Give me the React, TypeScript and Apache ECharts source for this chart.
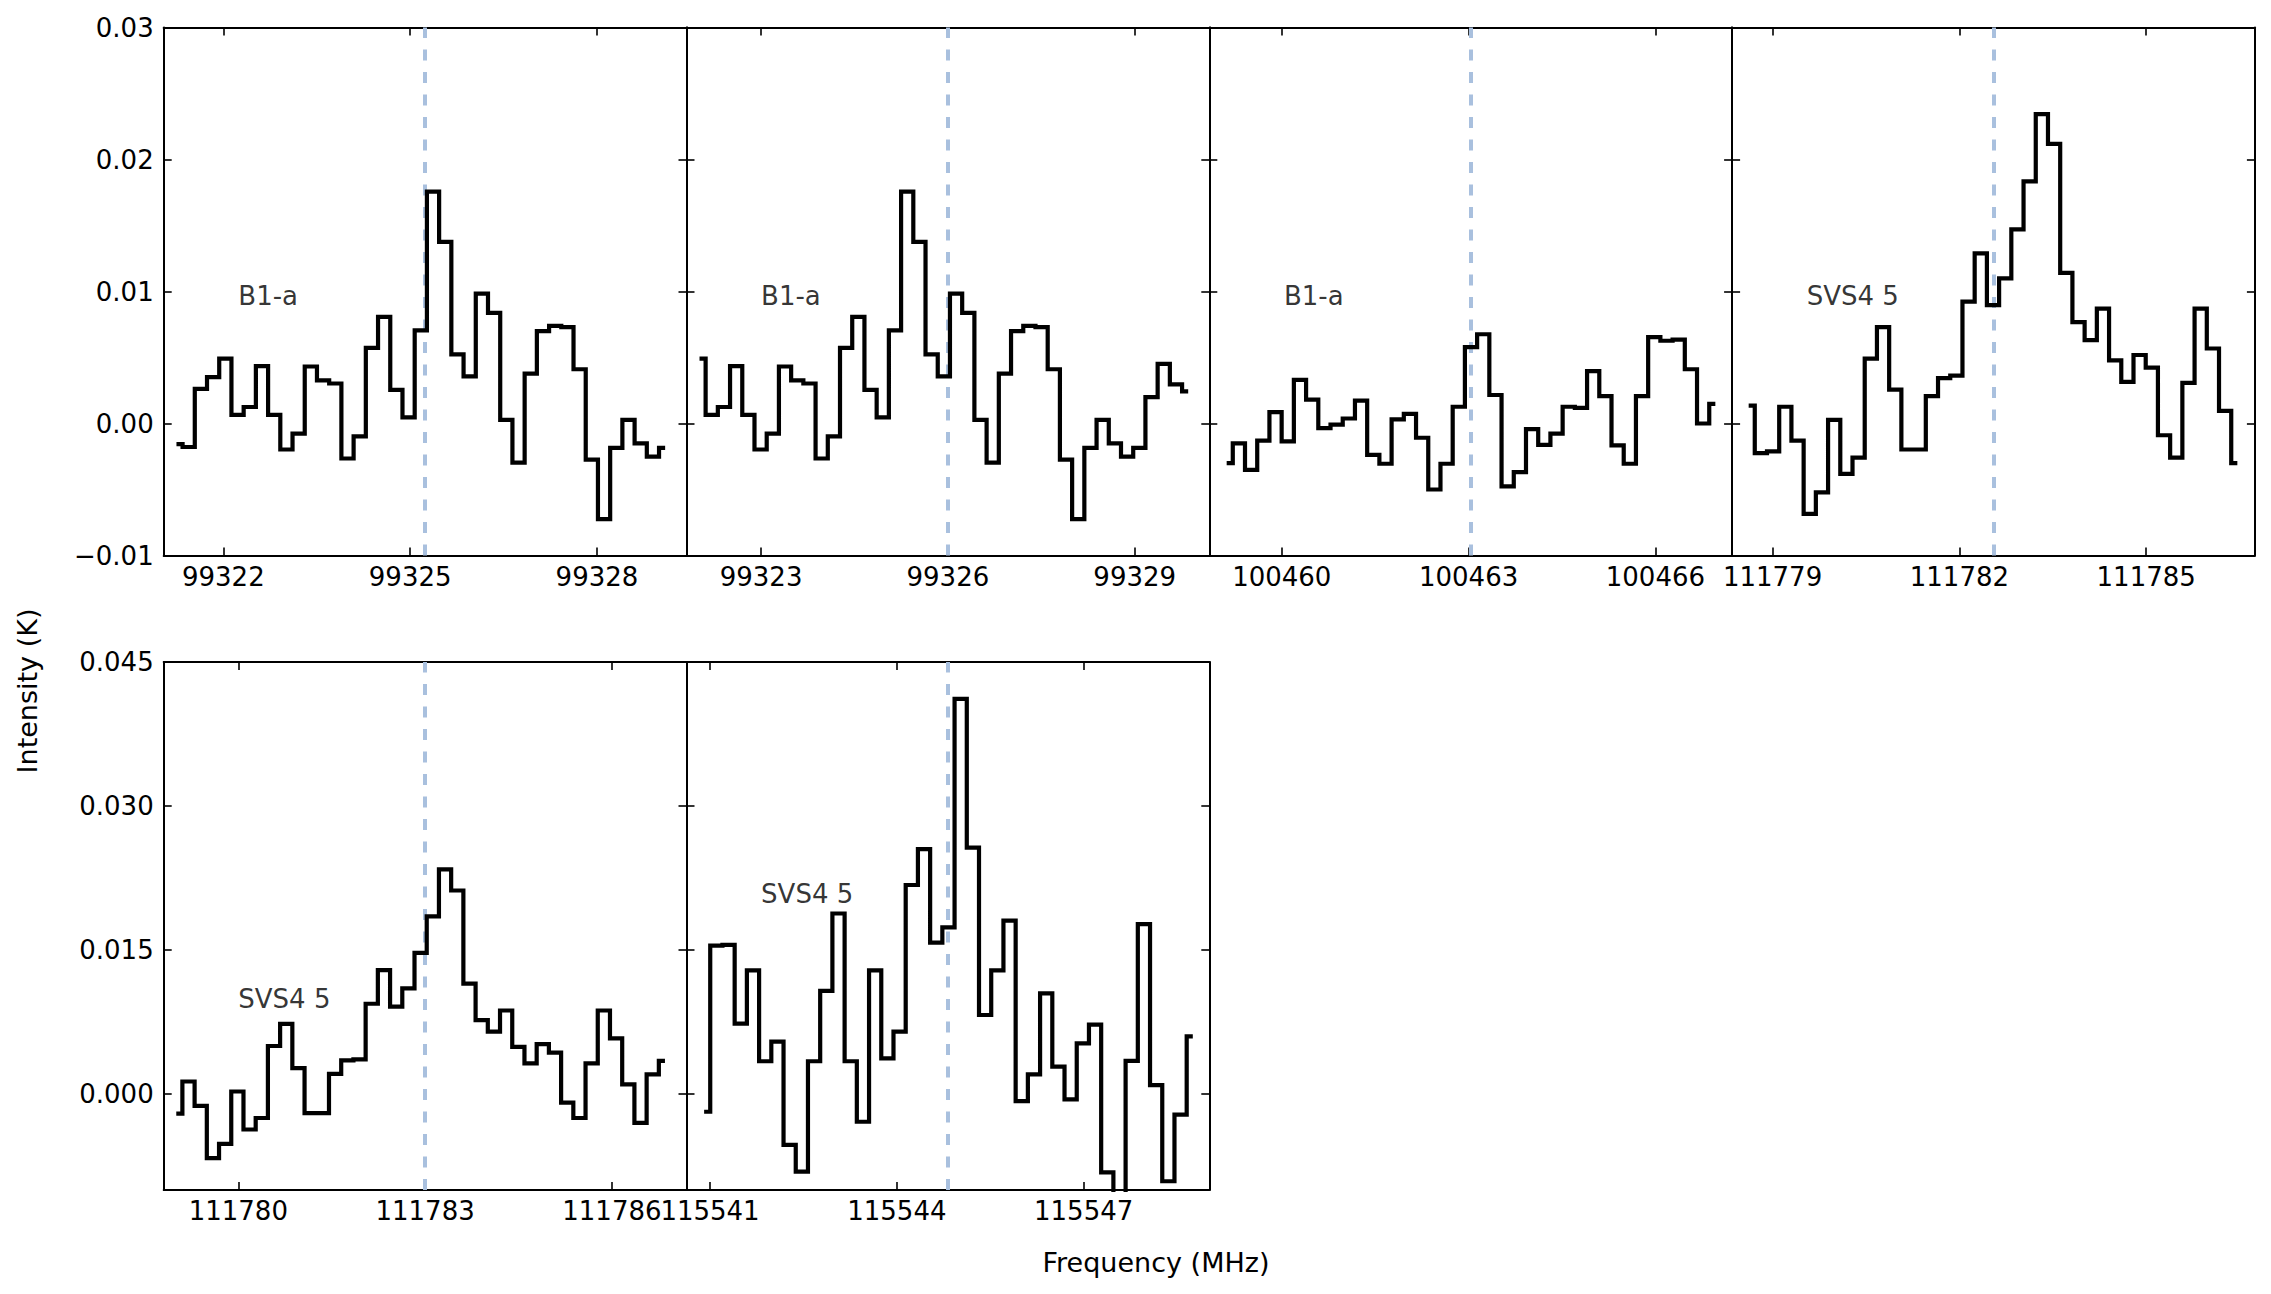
import React, { useEffect, useRef } from "react";
import * as echarts from "echarts";

// ---------------- data ----------------
const CHANNEL_WIDTH = 0.1962; // MHz, spectral channel spacing
const HALF_SPAN = 4.198; // MHz, half-width of each panel's frequency window
const LABEL_SHIFT = 3; // MHz, label placed this far left of the rest frequency

const panelNames = ["B1-a", "B1-a", "B1-a", "SVS4 5", "SVS4 5", "SVS4 5"];
const panelRestFreq = [99325.24, 99326.0, 100463.034, 111782.548, 111783.0, 115544.82];
const panelStartFreq = [99321.247, 99322.011, 100459.115, 111778.616, 111779.004, 115540.905];
const panelLabelY = [0.009, 0.009, 0.009, 0.009, 0.009, 0.02];
const panelXTicks = [
  [99322, 99325, 99328],
  [99323, 99326, 99329],
  [100460, 100463, 100466],
  [111779, 111782, 111785],
  [111780, 111783, 111786],
  [115541, 115544, 115547],
];

const b1aPanel1 = [
  -0.00157, -0.00178, 0.00262, 0.00351, 0.00492, 0.00065, 0.00125, 0.00435, 0.00065, -0.00197,
  -0.00076, 0.00432, 0.00327, 0.00303, -0.00265, -0.00097, 0.00573, 0.00808, 0.00254, 0.00046,
  0.00705, 0.01757, 0.01376, 0.00524, 0.00357, 0.00984, 0.00838, 0.00027, -0.00297, 0.00378,
  0.007, 0.0074, 0.0073, 0.00411, -0.00273, -0.00724, -0.00184, 0.00027, -0.00151, -0.00251,
  -0.00184,
];
const b1aPanel2 = [
  0.00492, 0.00065, 0.00125, 0.00435, 0.00065, -0.00197, -0.00076, 0.00432, 0.00327, 0.00303,
  -0.00265, -0.00097, 0.00573, 0.00808, 0.00254, 0.00046, 0.00705, 0.01757, 0.01376, 0.00524,
  0.00357, 0.00984, 0.00838, 0.00027, -0.00297, 0.00378, 0.007, 0.0074, 0.0073, 0.00411,
  -0.00273, -0.00724, -0.00184, 0.00027, -0.00151, -0.00251, -0.00184, 0.002, 0.00451, 0.00297,
  0.00243,
];
const b1aPanel3 = [
  -0.003, -0.00151, -0.00351, -0.0013, 0.00086, -0.00135, 0.0033, 0.00181, -0.00035, -0.00008,
  0.00038, 0.00173, -0.00238, -0.00305, 0.00032, 0.00073, -0.00108, -0.005, -0.00305, 0.00127,
  0.00578, 0.00676, 0.00216, -0.00476, -0.00368, -0.00043, -0.00162, -0.00076, 0.00127, 0.00119,
  0.00397, 0.00208, -0.00165, -0.00305, 0.00208, 0.00654, 0.00627, 0.00635, 0.00411, 0.0,
  0.00149,
];
const svsPanel4 = [
  0.00135, -0.00224, -0.00211, 0.00127, -0.0013, -0.00684, -0.00522, 0.00027, -0.00381, -0.00259,
  0.00492, 0.0073, 0.00257, -0.00197, -0.00197, 0.00208, 0.00343, 0.00362, 0.00924, 0.01289,
  0.00897, 0.011, 0.0147, 0.01835, 0.02343, 0.02119, 0.01141, 0.00768, 0.00632, 0.0087,
  0.00478, 0.00316, 0.00519, 0.00424, -0.00089, -0.00259, 0.00308, 0.0087, 0.00568, 0.00095,
  -0.003,
];
const svsPanel5 = [
  -0.00204, 0.0013, -0.00123, -0.00668, -0.0052, 0.00026, -0.0037, -0.0025, 0.005, 0.0073,
  0.0027, -0.002, -0.002, 0.0021, 0.0035, 0.0036, 0.0094, 0.0129, 0.0091, 0.011,
  0.0147, 0.0185, 0.0234, 0.0212, 0.0115, 0.0077, 0.0065, 0.0087, 0.0049, 0.0032,
  0.0052, 0.0043, -0.0009, -0.0025, 0.0032, 0.0087, 0.0058, 0.001, -0.003, 0.00204,
  0.00345,
];
const svsPanel6 = [
  -0.00185, 0.01546, 0.01554, 0.00734, 0.01287, 0.00341, 0.00545, -0.0053, -0.00808, 0.00341,
  0.01075, 0.0188, 0.00341, -0.00289, 0.01287, 0.00371, 0.00649, 0.02177, 0.02551, 0.01576,
  0.01735, 0.04116, 0.02566, 0.00823, 0.01287, 0.01806, -0.00074, 0.00204, 0.01049, 0.00286,
  -0.00056, 0.00527, 0.00723, -0.00816, -0.0115, 0.00345, 0.01769, 0.00093, -0.00909, -0.00215,
  0.00601,
];
const panelValues = [b1aPanel1, b1aPanel2, b1aPanel3, svsPanel4, svsPanel5, svsPanel6];

const topRowYTicks = [-0.01, 0, 0.01, 0.02, 0.03];
const bottomRowYTicks = [0, 0.015, 0.03, 0.045];
const rowYRange = [
  [-0.01, 0.03],
  [-0.01, 0.045],
];
const rowYDecimals = [2, 3];

// ---------------- layout ----------------
const FIG_W = 2271;
const FIG_H = 1294;
const COL_LEFT = [163.7, 686.5, 1209.3, 1732.1];
const PANEL_W = 522.8;
const ROW_TOP = [27.5, 662];
const PANEL_H = 528;
const FONT = "DejaVu Sans";
const DASH_COLOR = "#a9c0de";
const TICK_FONT = 26;
const TITLE_FONT = 27;

const panelPos = [
  [0, 0],
  [0, 1],
  [0, 2],
  [0, 3],
  [1, 0],
  [1, 1],
];

function fmtY(v: number, dec: number) {
  const s = v.toFixed(dec);
  return s.replace("-", "\u2212");
}

function buildOption() {
  const grid: any[] = [];
  const xAxis: any[] = [];
  const yAxis: any[] = [];
  const series: any[] = [];

  const axisLine = { show: true, onZero: false, lineStyle: { color: "#000", width: 2 } };
  const tickStyle = { color: "#000", width: 1.6 };

  panelPos.forEach(([row, col], i) => {
    grid.push({ left: COL_LEFT[col], top: ROW_TOP[row], width: PANEL_W, height: PANEL_H });
    const rest = panelRestFreq[i];
    const xmin = rest - HALF_SPAN;
    const xmax = rest + HALF_SPAN;
    const xt = panelXTicks[i];
    const yt = row === 0 ? topRowYTicks : bottomRowYTicks;
    const [ymin, ymax] = rowYRange[row];
    const dec = rowYDecimals[row];

    xAxis.push({
      type: "value",
      gridIndex: i,
      position: "bottom",
      min: xmin,
      max: xmax,
      axisLine,
      splitLine: { show: false },
      axisTick: { show: true, inside: true, length: 8, lineStyle: tickStyle, customValues: xt },
      axisLabel: {
        show: true,
        customValues: xt,
        margin: 8,
        color: "#000",
        fontSize: TICK_FONT,
        fontFamily: FONT,
        formatter: (v: number) => String(Math.round(v)),
      },
    });
    xAxis.push({
      type: "value",
      gridIndex: i,
      position: "top",
      min: xmin,
      max: xmax,
      axisLine,
      splitLine: { show: false },
      axisTick: { show: true, inside: true, length: 8, lineStyle: tickStyle, customValues: xt },
      axisLabel: { show: false },
    });
    yAxis.push({
      type: "value",
      gridIndex: i,
      position: "left",
      min: ymin,
      max: ymax,
      axisLine,
      splitLine: { show: false },
      axisTick: { show: true, inside: true, length: 8, lineStyle: tickStyle, customValues: yt },
      axisLabel: {
        show: col === 0,
        customValues: yt,
        margin: 10,
        color: "#000",
        fontSize: TICK_FONT,
        fontFamily: FONT,
        formatter: (v: number) => fmtY(v, dec),
      },
    });
    yAxis.push({
      type: "value",
      gridIndex: i,
      position: "right",
      min: ymin,
      max: ymax,
      axisLine,
      splitLine: { show: false },
      axisTick: { show: true, inside: true, length: 8, lineStyle: tickStyle, customValues: yt },
      axisLabel: { show: false },
    });

    const start = panelStartFreq[i];
    const data = panelValues[i].map((v, k) => [start + k * CHANNEL_WIDTH, v]);

    series.push({
      type: "line",
      xAxisIndex: 2 * i,
      yAxisIndex: 2 * i,
      data,
      step: "middle",
      showSymbol: false,
      symbol: "none",
      clip: true,
      silent: true,
      lineStyle: { color: "#000", width: 4.2, join: "miter" },
      markLine: {
        silent: true,
        symbol: ["none", "none"],
        label: { show: false },
        lineStyle: { color: DASH_COLOR, width: 4, type: [11, 11.5] },
        data: [{ xAxis: rest }],
        z: 1,
      },
      z: 3,
    });

    series.push({
      type: "scatter",
      xAxisIndex: 2 * i,
      yAxisIndex: 2 * i,
      data: [[rest - LABEL_SHIFT, panelLabelY[i]]],
      symbolSize: 0,
      silent: true,
      label: {
        show: true,
        position: [0, 0],
        align: "left",
        verticalAlign: "middle",
        offset: [0, -8.5],
        formatter: () => panelNames[i],
        color: "#000",
        fontSize: TICK_FONT,
        fontFamily: FONT,
      },
      z: 4,
    });
  });

  return {
    animation: false,
    backgroundColor: "#fff",
    grid,
    xAxis,
    yAxis,
    series,
    graphic: [
      {
        type: "text",
        x: 27.5,
        y: 691,
        rotation: Math.PI / 2,
        style: {
          text: "Intensity (K)",
          fontSize: TITLE_FONT,
          fontFamily: FONT,
          fill: "#000",
          align: "center",
          verticalAlign: "middle",
        },
      },
      {
        type: "text",
        x: 1156,
        y: 1262,
        style: {
          text: "Frequency (MHz)",
          fontSize: TITLE_FONT,
          fontFamily: FONT,
          fill: "#000",
          align: "center",
          verticalAlign: "middle",
        },
      },
    ],
  };
}

export default function App() {
  const ref = useRef<HTMLDivElement>(null);
  useEffect(() => {
    if (!ref.current) return;
    const chart = echarts.init(ref.current, undefined, { renderer: "svg" });
    chart.setOption(buildOption() as any);
    return () => chart.dispose();
  }, []);
  return (
    <div
      ref={ref}
      style={{ position: "absolute", left: 0, top: 0, width: FIG_W, height: FIG_H, background: "#fff" }}
    />
  );
}
